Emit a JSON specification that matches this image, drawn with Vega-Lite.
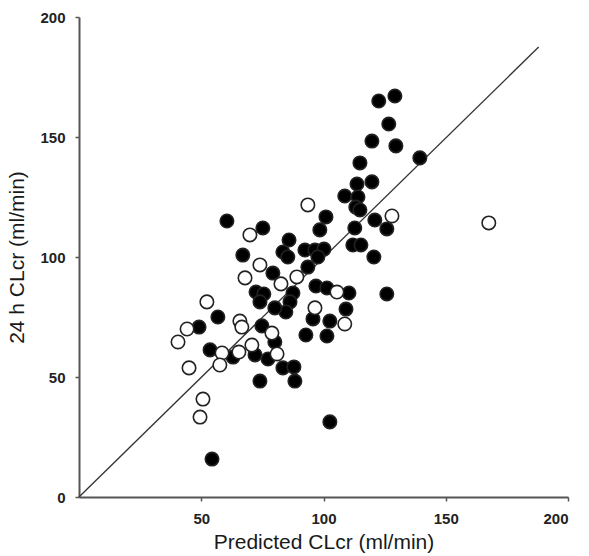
{
  "$schema": "https://vega.github.io/schema/vega-lite/v6.json",
  "width": 489,
  "height": 480,
  "autosize": "none",
  "padding": {"left": 79, "top": 17, "right": 21, "bottom": 59},
  "background": "white",
  "config": {
    "view": {"stroke": null},
    "font": "Liberation Sans",
    "axis": {
      "grid": false,
      "domainColor": "#555",
      "domainWidth": 2,
      "tickColor": "#555",
      "tickWidth": 1.5,
      "tickSize": 4,
      "labelFont": "Liberation Sans",
      "labelFontSize": 15,
      "labelFontWeight": "bold",
      "labelColor": "#222",
      "titleFont": "Liberation Sans",
      "titleFontSize": 21,
      "titleFontWeight": "normal",
      "titleColor": "#1a1a1a"
    }
  },
  "datasets": {
    "pts": [
      {"pred": 122.6, "obs": 165, "group": "filled"},
      {"pred": 129.2, "obs": 167.1, "group": "filled"},
      {"pred": 126.7, "obs": 155.4, "group": "filled"},
      {"pred": 119.8, "obs": 148.3, "group": "filled"},
      {"pred": 129.6, "obs": 146.3, "group": "filled"},
      {"pred": 139.4, "obs": 141.3, "group": "filled"},
      {"pred": 114.9, "obs": 139.2, "group": "filled"},
      {"pred": 113.7, "obs": 130.4, "group": "filled"},
      {"pred": 119.8, "obs": 131.3, "group": "filled"},
      {"pred": 108.7, "obs": 125.4, "group": "filled"},
      {"pred": 114.1, "obs": 125, "group": "filled"},
      {"pred": 113.2, "obs": 120.8, "group": "filled"},
      {"pred": 114.9, "obs": 119.6, "group": "filled"},
      {"pred": 121, "obs": 115.4, "group": "filled"},
      {"pred": 125.9, "obs": 111.7, "group": "filled"},
      {"pred": 112.8, "obs": 112.1, "group": "filled"},
      {"pred": 112, "obs": 105, "group": "filled"},
      {"pred": 115.3, "obs": 105, "group": "filled"},
      {"pred": 120.6, "obs": 100, "group": "filled"},
      {"pred": 110.4, "obs": 85, "group": "filled"},
      {"pred": 109.2, "obs": 78.3, "group": "filled"},
      {"pred": 125.9, "obs": 84.6, "group": "filled"},
      {"pred": 101, "obs": 116.7, "group": "filled"},
      {"pred": 98.5, "obs": 111.3, "group": "filled"},
      {"pred": 60.5, "obs": 115, "group": "filled"},
      {"pred": 75.2, "obs": 112.1, "group": "filled"},
      {"pred": 85.9, "obs": 107.1, "group": "filled"},
      {"pred": 83.4, "obs": 102.1, "group": "filled"},
      {"pred": 85.4, "obs": 100, "group": "filled"},
      {"pred": 92.4, "obs": 102.9, "group": "filled"},
      {"pred": 96.5, "obs": 102.9, "group": "filled"},
      {"pred": 100.2, "obs": 103.3, "group": "filled"},
      {"pred": 97.7, "obs": 100, "group": "filled"},
      {"pred": 93.6, "obs": 95.8, "group": "filled"},
      {"pred": 79.3, "obs": 93.3, "group": "filled"},
      {"pred": 67, "obs": 100.8, "group": "filled"},
      {"pred": 72.4, "obs": 85.4, "group": "filled"},
      {"pred": 75.6, "obs": 84.6, "group": "filled"},
      {"pred": 74, "obs": 81.3, "group": "filled"},
      {"pred": 87.5, "obs": 85, "group": "filled"},
      {"pred": 86.3, "obs": 81.3, "group": "filled"},
      {"pred": 84.6, "obs": 77.1, "group": "filled"},
      {"pred": 80.1, "obs": 78.8, "group": "filled"},
      {"pred": 96.9, "obs": 87.9, "group": "filled"},
      {"pred": 101.4, "obs": 87.1, "group": "filled"},
      {"pred": 95.7, "obs": 74.2, "group": "filled"},
      {"pred": 102.6, "obs": 73.3, "group": "filled"},
      {"pred": 92.8, "obs": 67.5, "group": "filled"},
      {"pred": 101.4, "obs": 67.1, "group": "filled"},
      {"pred": 56.8, "obs": 75, "group": "filled"},
      {"pred": 49.1, "obs": 70.8, "group": "filled"},
      {"pred": 74.8, "obs": 71.3, "group": "filled"},
      {"pred": 80.1, "obs": 64.6, "group": "filled"},
      {"pred": 53.6, "obs": 61.3, "group": "filled"},
      {"pred": 63, "obs": 58.3, "group": "filled"},
      {"pred": 72, "obs": 59.2, "group": "filled"},
      {"pred": 77.3, "obs": 57.5, "group": "filled"},
      {"pred": 83.4, "obs": 53.8, "group": "filled"},
      {"pred": 87.9, "obs": 54.2, "group": "filled"},
      {"pred": 88.3, "obs": 48.3, "group": "filled"},
      {"pred": 74, "obs": 48.3, "group": "filled"},
      {"pred": 54.4, "obs": 15.8, "group": "filled"},
      {"pred": 102.6, "obs": 31.3, "group": "filled"},
      {"pred": 128, "obs": 117.1, "group": "open"},
      {"pred": 167.6, "obs": 114.2, "group": "open"},
      {"pred": 105.5, "obs": 85.4, "group": "open"},
      {"pred": 93.6, "obs": 121.7, "group": "open"},
      {"pred": 69.9, "obs": 109.2, "group": "open"},
      {"pred": 74, "obs": 96.7, "group": "open"},
      {"pred": 67.9, "obs": 91.3, "group": "open"},
      {"pred": 82.6, "obs": 88.8, "group": "open"},
      {"pred": 89.1, "obs": 91.7, "group": "open"},
      {"pred": 96.5, "obs": 78.8, "group": "open"},
      {"pred": 108.7, "obs": 72.1, "group": "open"},
      {"pred": 52.3, "obs": 81.3, "group": "open"},
      {"pred": 65.8, "obs": 73.3, "group": "open"},
      {"pred": 66.6, "obs": 70.8, "group": "open"},
      {"pred": 78.9, "obs": 68.3, "group": "open"},
      {"pred": 44.2, "obs": 70, "group": "open"},
      {"pred": 40.5, "obs": 64.6, "group": "open"},
      {"pred": 58.5, "obs": 60, "group": "open"},
      {"pred": 65.4, "obs": 60.4, "group": "open"},
      {"pred": 70.7, "obs": 63.3, "group": "open"},
      {"pred": 81, "obs": 59.6, "group": "open"},
      {"pred": 57.6, "obs": 55, "group": "open"},
      {"pred": 45, "obs": 53.8, "group": "open"},
      {"pred": 50.7, "obs": 40.8, "group": "open"},
      {"pred": 49.5, "obs": 33.3, "group": "open"}
    ],
    "identity": [
      {"pred": 0, "obs": 0},
      {"pred": 188, "obs": 187.5}
    ]
  },
  "layer": [
    {
      "data": {"name": "identity"},
      "mark": {"type": "line", "color": "#333", "strokeWidth": 1.3},
      "encoding": {
        "x": {
          "field": "pred", "type": "quantitative",
          "scale": {"domain": [0, 200], "nice": false},
          "axis": {"values": [50, 100, 150, 200], "title": "Predicted CLcr (ml/min)", "labelPadding": 10, "titlePadding": 5}
        },
        "y": {
          "field": "obs", "type": "quantitative",
          "scale": {"domain": [0, 200], "nice": false},
          "axis": {"values": [0, 50, 100, 150, 200], "title": "24 h CLcr (ml/min)", "labelPadding": 10, "titlePadding": 12}
        }
      }
    },
    {
      "data": {"name": "pts"},
      "mark": {"type": "point", "shape": "circle", "size": 180, "strokeWidth": 1.6, "opacity": 1, "filled": false},
      "encoding": {
        "x": {"field": "pred", "type": "quantitative"},
        "y": {"field": "obs", "type": "quantitative"},
        "fill": {
          "field": "group", "type": "nominal",
          "scale": {"domain": ["filled", "open"], "range": ["#000000", "#ffffff"]},
          "legend": null
        },
        "stroke": {"value": "#222"},
        "fillOpacity": {"value": 1}
      }
    }
  ]
}
